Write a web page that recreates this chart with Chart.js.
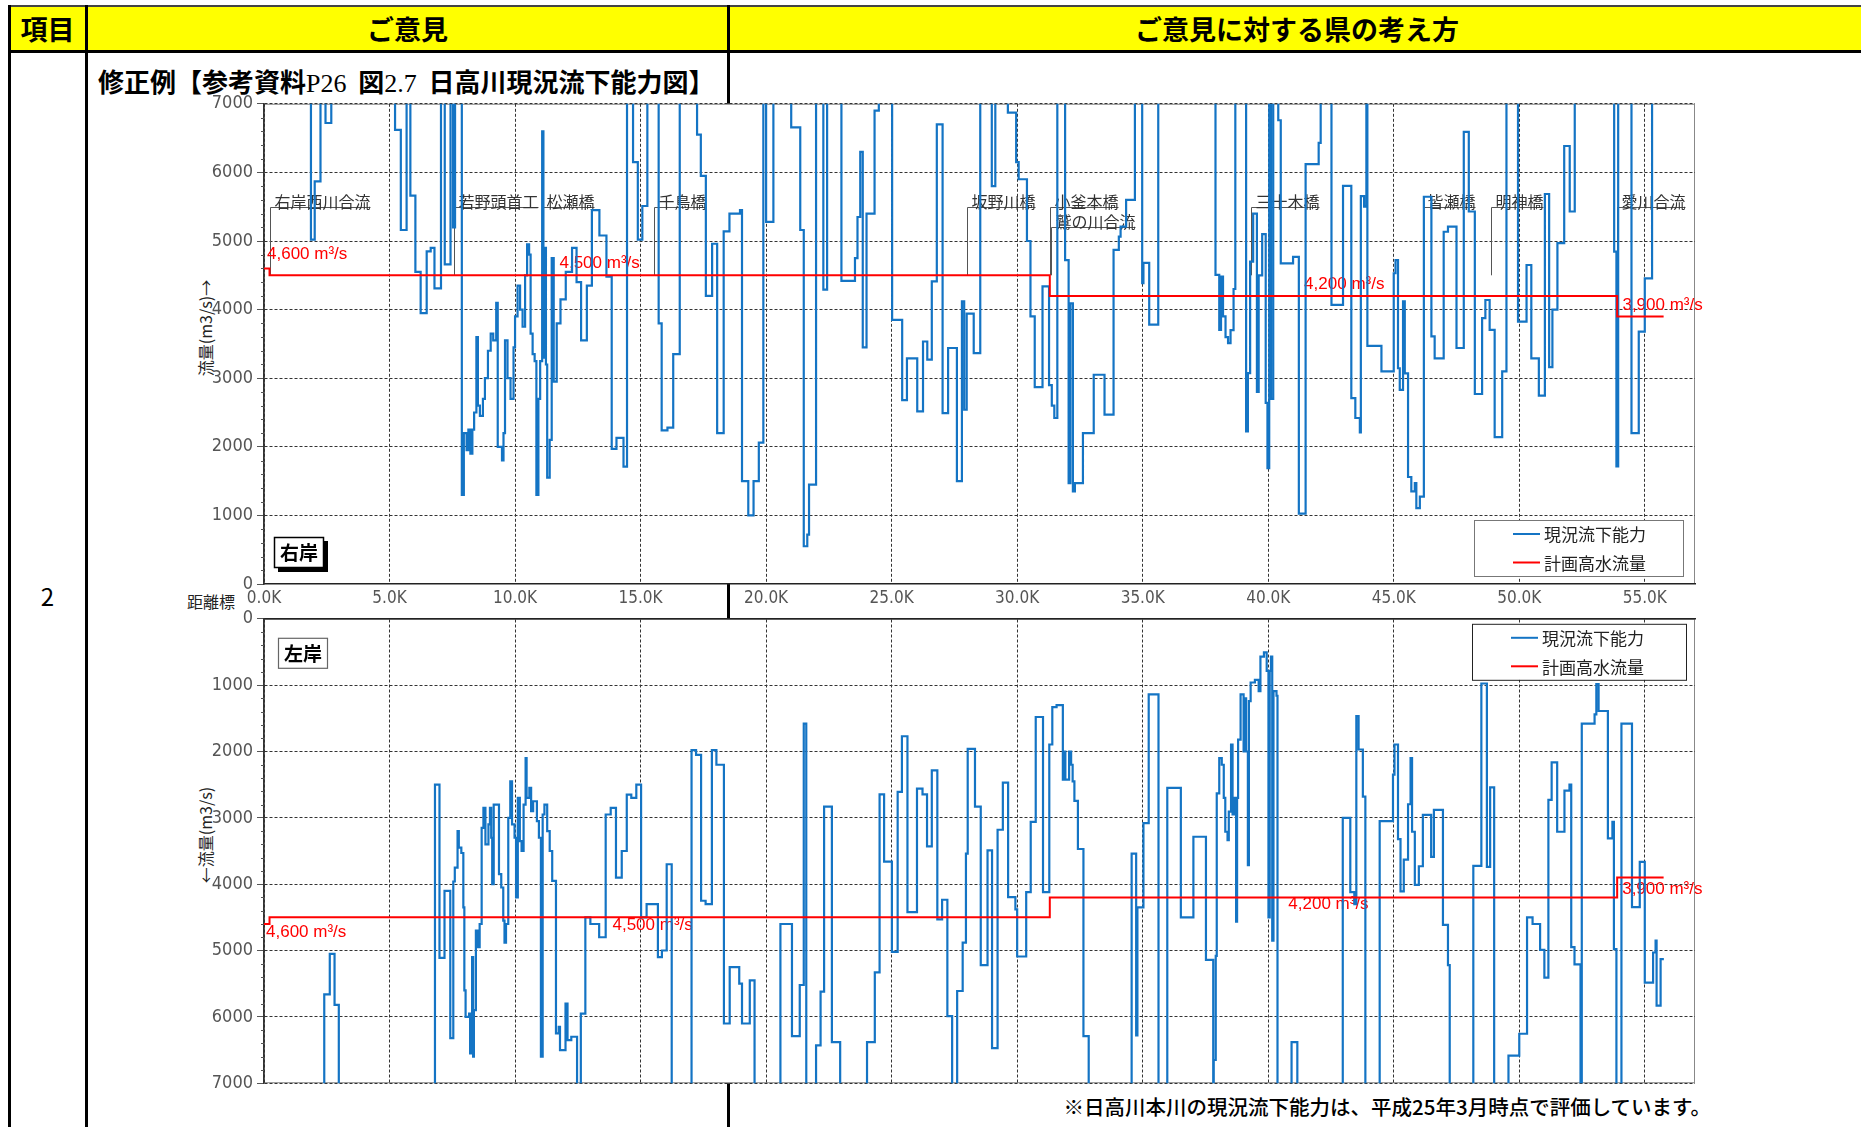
<!DOCTYPE html>
<html lang="ja">

<head>
    <meta charset="UTF-8">
    <title>日高川現況流下能力図</title>
    <script src="https://cdn.jsdelivr.net/npm/chart.js"></script>
    <style>
        body { margin: 0; width: 1861px; height: 1127px; position: relative; overflow: hidden; background: #fff;
               font-family: "Noto Sans CJK JP", sans-serif; color: #000; }
        .abs { position: absolute; }
        .ln { position: absolute; background: #000; }
        .hd { position: absolute; top: 7px; height: 44px; line-height: 44px; text-align: center; font-weight: bold; font-size: 27px; }
        .serif { font-family: "Liberation Serif", serif; font-weight: normal; }
        .vt { position: absolute; font-size: 16px; color: #222; white-space: nowrap; transform: translate(-50%, -50%) rotate(-90deg); }
        canvas { position: absolute; z-index: 2; }
    </style>
</head>

<body>
    <!-- table frame -->
    <div class="abs" style="left:9px;top:7px;width:1852px;height:44px;background:#ff0"></div>
    <div class="ln" style="left:8px;top:5px;width:1853px;height:2px;background:#444"></div>
    <div class="ln" style="left:8px;top:50px;width:1853px;height:3px"></div>
    <div class="ln" style="left:8px;top:5px;width:3px;height:1122px"></div>
    <div class="ln" style="left:85px;top:5px;width:3px;height:1122px"></div>
    <div class="ln" style="left:727px;top:5px;width:3px;height:1122px"></div>
    <div class="hd" style="left:9px;width:77px">項目</div>
    <div class="hd" style="left:88px;width:639px">ご意見</div>
    <div class="hd" style="left:730px;width:1134px">ご意見に対する県の考え方</div>
    <div class="abs" style="left:9px;width:77px;top:580px;line-height:32px;text-align:center;font-size:24px">2</div>
    <div class="abs" style="left:98px;top:64px;line-height:34px;font-size:26px;font-weight:bold;white-space:nowrap">修正例【参考資料<span class="serif">P26</span>&nbsp;&nbsp;図<span class="serif">2.7</span>&nbsp;&nbsp;日高川現況流下能力図】</div>
    <div class="abs" style="right:150px;top:1092px;line-height:28px;font-size:20.5px;font-weight:500;white-space:nowrap">※日高川本川の現況流下能力は、平成25年3月時点で評価しています。</div>
    <div class="vt" style="left:205px;top:328px">流量(m3/s)→</div>
    <div class="vt" style="left:205px;top:835px">←流量(m3/s)</div>
    <div class="abs" style="left:187px;top:588px;line-height:26px;font-size:16px;color:#222">距離標</div>

    <canvas id="rightBank" width="1553" height="518" style="left:154px;top:95px"></canvas>
    <canvas id="leftBank" width="1553" height="482" style="left:154px;top:608px"></canvas>

    <script>
        // 右岸 現況流下能力 (距離標 km, 流量 m3/s), 8000 = above the 7000 frame
        const rightKm = [0, 1.87, 2.02, 2.25, 2.45, 2.68, 5.22, 5.45, 5.68, 5.83, 6.03, 6.24, 6.48, 6.64, 6.79, 7.05, 7.2, 7.43, 7.53, 7.61,
            7.88, 7.96, 8.07, 8.14, 8.22, 8.3, 8.37, 8.46, 8.52, 8.6, 8.72, 8.8, 8.92, 9.03, 9.13, 9.25, 9.31, 9.48, 9.54, 9.6,
            9.7, 9.82, 9.94, 10.0, 10.1, 10.2, 10.3, 10.4, 10.48, 10.56, 10.62, 10.7, 10.78, 10.85, 10.93, 11.0, 11.08, 11.13, 11.17, 11.23,
            11.28, 11.38, 11.46, 11.54, 11.66, 11.81, 12.02, 12.27, 12.45, 12.63, 12.86, 13.06, 13.36, 13.64, 13.85, 14.04, 14.32, 14.46, 14.7, 14.89,
            15.07, 15.27, 15.72, 15.84, 16.07, 16.3, 16.56, 17.25, 17.4, 17.6, 17.85, 18.05, 18.31, 18.54, 18.96, 19.04, 19.29, 19.5, 19.71, 19.89,
            20.0, 20.29, 21.0, 21.36, 21.5, 21.64, 21.71, 21.99, 22.28, 22.43, 23.0, 23.54, 23.64, 23.75, 23.85, 24.0, 24.32, 24.49, 25.02, 25.42,
            25.61, 26.02, 26.25, 26.42, 26.6, 26.8, 27.03, 27.25, 27.6, 27.8, 27.89, 27.99, 28.27, 28.53, 28.99, 29.13, 29.63, 29.96, 30.06, 30.39,
            30.53, 30.7, 31.01, 31.27, 31.38, 31.48, 31.6, 31.91, 32.05, 32.12, 32.22, 32.3, 32.62, 33.05, 33.48, 33.84, 34.05, 34.12, 34.34, 34.69,
            34.98, 35.03, 35.26, 35.62, 37.9, 38.05, 38.12, 38.2, 38.3, 38.4, 38.5, 38.62, 38.69, 39.12, 39.19, 39.28, 39.4, 39.55, 39.62, 39.76,
            39.9, 39.97, 40.04, 40.11, 40.2, 40.4, 40.5, 40.99, 41.22, 41.49, 42.01, 42.09, 42.52, 42.98, 43.31, 43.47, 43.65, 43.69, 43.82, 43.91,
            43.95, 44.51, 45.0, 45.07, 45.17, 45.24, 45.37, 45.44, 45.57, 45.7, 45.84, 45.9, 46.04, 46.2, 46.5, 46.63, 46.99, 47.16, 47.5, 47.79,
            47.99, 48.23, 48.52, 48.65, 48.82, 49.02, 49.32, 49.49, 49.95, 50.29, 50.48, 50.78, 51.02, 51.19, 51.32, 51.52, 51.79, 52.01, 52.21, 53.78,
            53.87, 53.94, 54.47, 54.76, 55.0, 55.29, 55.75];
        const rightQ = [8000, 5020, 5870, 8000, 6720, 8000, 6620, 5160, 8000, 5660, 4550, 3950, 4850, 4900, 4310, 8000, 4660, 8000, 5200, 8000,
            1300, 2200, 1950, 2250, 1900, 2250, 2500, 3600, 2600, 2450, 2700, 3000, 3400, 3650, 3550, 4100, 2000, 1800, 2200, 3550,
            3000, 2700, 3450, 3900, 4350, 4000, 3750, 4500, 4950, 4800, 3650, 3350, 3250, 1300, 2700, 3250, 6600, 3300, 4900, 3200,
            1550, 2100, 4750, 2950, 3800, 4150, 4550, 4900, 4400, 3550, 4350, 5450, 5080, 4480, 1970, 2130, 1710, 8000, 6150, 5020,
            5510, 8000, 3800, 2240, 2280, 3350, 8000, 6550, 5950, 4200, 4960, 2200, 5140, 5400, 5450, 1500, 1000, 1500, 2060, 8000,
            5280, 8000, 6655, 5160, 550, 720, 1450, 8000, 4290, 8000, 4420, 4750, 5350, 6300, 3450, 5400, 6900, 8000, 3850, 2680,
            3290, 2515, 3535, 3270, 4410, 6700, 2490, 3440, 1500, 4120, 2540, 3940, 3365, 8000, 5800, 8000, 6870, 6150, 5900, 5000,
            3900, 2870, 4340, 2900, 2600, 2420, 8000, 4720, 1470, 4090, 1350, 1470, 2200, 3050, 2470, 4870, 5065, 5210, 5600, 8000,
            4385, 4680, 3780, 8000, 4505, 3705, 4480, 3900, 3600, 3510, 3700, 4300, 8000, 2225, 3075, 4700, 5400, 2800, 4500, 5100,
            2640, 1690, 8000, 2700, 8000, 6760, 4675, 4770, 1025, 6120, 6430, 8000, 4070, 5805, 2710, 2420, 2210, 5655, 5500, 8000,
            3470, 3100, 4530, 4720, 3145, 2830, 4120, 3070, 1560, 1350, 1470, 1105, 1275, 5645, 3610, 3290, 5135, 5210, 3440, 6590,
            5430, 2770, 3875, 4140, 3705, 2140, 3100, 8000, 3825, 4650, 3290, 2745, 5685, 3160, 4000, 4970, 6385, 5430, 8000, 4845,
            1715, 8000, 2200, 3680, 4455, 8000, 8000];

        // 左岸 現況流下能力, 8000 = below the 7000 frame
        const leftKm = [0, 2.4, 2.62, 2.81, 2.98, 6.81, 6.99, 7.19, 7.42, 7.54, 7.6, 7.71, 7.76, 7.86, 7.94, 7.98, 8.03, 8.17, 8.21, 8.29,
            8.33, 8.36, 8.44, 8.52, 8.59, 8.67, 8.74, 8.82, 8.94, 9.0, 9.05, 9.09, 9.15, 9.36, 9.45, 9.53, 9.58, 9.64, 9.73, 9.81,
            9.88, 9.98, 10.04, 10.11, 10.19, 10.26, 10.34, 10.42, 10.46, 10.57, 10.64, 10.72, 10.87, 10.95, 11.03, 11.1, 11.17, 11.28, 11.38, 11.48,
            11.63, 11.74, 11.79, 12.01, 12.09, 12.24, 12.47, 12.62, 12.8, 13.0, 13.35, 13.61, 13.81, 14.02, 14.25, 14.45, 14.63, 14.83, 15.02, 15.24,
            15.69, 15.85, 16.04, 16.24, 17.03, 17.21, 17.41, 17.59, 17.84, 18.02, 18.32, 18.55, 18.93, 19.04, 19.35, 19.54, 20.57, 21.03, 21.34, 21.5,
            21.6, 21.99, 22.17, 22.31, 22.62, 22.95, 24.02, 24.33, 24.52, 24.7, 25.01, 25.24, 25.41, 25.63, 26.01, 26.23, 26.41, 26.6, 26.82, 27.01,
            27.22, 27.41, 27.61, 27.83, 27.96, 28.03, 28.32, 28.55, 28.82, 29.0, 29.22, 29.43, 29.64, 29.93, 30.0, 30.36, 30.54, 30.74, 31.03, 31.28,
            31.4, 31.57, 31.82, 31.88, 31.92, 32.07, 32.15, 32.21, 32.28, 32.42, 32.64, 32.85, 34.56, 34.74, 34.79, 35.03, 35.24, 35.63, 35.98, 36.52,
            37.02, 37.52, 37.81, 37.83, 37.91, 37.95, 38.05, 38.15, 38.23, 38.29, 38.38, 38.43, 38.52, 38.58, 38.66, 38.72, 38.76, 38.8, 38.9, 39.02,
            39.09, 39.12, 39.19, 39.23, 39.3, 39.47, 39.62, 39.69, 39.83, 39.94, 40.01, 40.06, 40.11, 40.16, 40.21, 40.33, 40.37, 40.93, 41.16, 42.97,
            43.27, 43.43, 43.51, 43.6, 43.77, 43.87, 44.44, 44.97, 45.03, 45.17, 45.27, 45.4, 45.57, 45.67, 45.73, 45.84, 46.0, 46.16, 46.49, 46.6,
            46.96, 47.16, 47.23, 48.17, 48.49, 48.71, 48.84, 49.0, 49.57, 50.0, 50.31, 50.53, 50.83, 51.0, 51.16, 51.29, 51.51, 51.8, 52.0, 52.07,
            52.2, 52.44, 52.49, 53.0, 53.07, 53.16, 53.53, 53.71, 53.77, 53.87, 54.07, 54.49, 54.8, 55.0, 55.33, 55.43, 55.47, 55.63, 55.76];
        const leftQ = [8000, 5660, 5050, 5820, 8000, 2500, 5110, 4100, 6320, 3960, 3750, 3200, 3450, 3530, 4350, 5600, 6000, 5950, 6550, 5100,
            6600, 5900, 4700, 4950, 4600, 3150, 2850, 3400, 3100, 2850, 3300, 4000, 2800, 3850, 4050, 4550, 4880, 4600, 3000, 2450,
            3100, 3300, 4200, 2700, 3350, 3500, 2800, 2100, 2700, 2550, 2900, 2750, 3050, 3300, 6600, 2950, 2800, 3200, 3500, 3950,
            6250, 6150, 6500, 5800, 6350, 6300, 8000, 5950, 4500, 4600, 4800, 2950, 2850, 3900, 3500, 2650, 2700, 2500, 4500, 4300,
            5100, 5000, 3700, 8000, 1980, 2050, 4250, 4300, 1980, 2200, 6100, 5250, 5500, 6100, 5450, 8000, 4600, 6290, 5520, 1580,
            8000, 6430, 5620, 2830, 6380, 8000, 6380, 5330, 2645, 3660, 5020, 2610, 1770, 4420, 2560, 2645, 3430, 2285, 4530, 4235,
            5990, 8000, 5610, 4880, 3540, 1960, 2830, 5220, 3490, 6470, 3180, 2470, 4195, 4380, 5090, 4120, 3060, 1480, 4120, 1895,
            1330, 1300, 2425, 2000, 2425, 2000, 2200, 2450, 2745, 3470, 6290, 8000, 3540, 6280, 4350, 3080, 1140, 8000, 2550, 4500,
            3285, 5140, 8000, 6650, 5080, 2630, 2100, 2200, 2700, 3210, 3335, 2905, 1895, 2950, 2700, 4565, 2700, 1820, 1140, 2000,
            1200, 2000, 3715, 1240, 960, 920, 1090, 570, 505, 785, 4500, 785, 570, 4850, 1090, 1160, 8000, 6380, 8000, 3000,
            4120, 4300, 1465, 1970, 2680, 8000, 3050, 2350, 1895, 3320, 4110, 3630, 2795, 2100, 3210, 4010, 3730, 2955, 3590, 2880,
            4615, 5220, 8000, 3725, 975, 3740, 2540, 8000, 6585, 6255, 4500, 4600, 4990, 5410, 2730, 2165, 3210, 2590, 2500, 4950,
            5210, 8000, 1580, 1440, 985, 1390, 3310, 3060, 4980, 8000, 1580, 4345, 3665, 5485, 5030, 4850, 5830, 5130, 5130];

        // 計画高水流量
        const planKm = [0, 0.22, 31.3, 53.9, 55.75];
        const planQ = [4600, 4500, 4200, 3900, 3900];
        const planText = ['4,600 m³/s', '4,500 m³/s', '4,200 m³/s', '3,900 m³/s'];

        // 右岸の橋・合流点
        const bridgeNames = ['右岸西川合流', '若野頭首工', '松瀬橋', '千鳥橋', '坂野川橋', '小釜本橋', '鷲の川合流', '三十木橋', '皆瀬橋', '明神橋', '愛川合流'];
        const bridgeKm = [0.24, 7.58, 11.08, 15.54, 27.99, 31.31, 31.35, 39.33, 46.17, 48.86, 53.91];

        const BLUE = '#1474c4';
        const narrow = "'Liberation Sans Narrow', 'DejaVu Sans Condensed', sans-serif";
        const jp = "'Noto Sans CJK JP', sans-serif";

        const pts = (km, q) => km.map((k, i) => ({ x: k, y: q[i] }));

        const sheetPlugin = {
            id: 'sheet',
            beforeDraw(chart) {
                const { ctx, chartArea: a } = chart;
                ctx.save();
                ctx.fillStyle = '#fff';
                ctx.fillRect(a.left, a.top, a.width, a.height);
                ctx.strokeStyle = '#888';
                ctx.lineWidth = 1;
                ctx.strokeRect(a.left + 0.5, a.top + 0.5, a.width - 1, a.height - 1);
                ctx.restore();
            },
            beforeDatasetsDraw(chart, args, o) {
                const { ctx, chartArea: a } = chart;
                const xs = chart.scales.x, ys = chart.scales.y;
                ctx.save();
                // minor ticks every 200
                ctx.strokeStyle = '#555';
                ctx.lineWidth = 1;
                ctx.beginPath();
                for (let v = 200; v < 7000; v += 200) {
                    if (v % 1000 === 0) continue;
                    const p = Math.round(ys.getPixelForValue(v)) + 0.5;
                    ctx.moveTo(a.left - 3, p);
                    ctx.lineTo(a.left, p);
                }
                ctx.stroke();

                // bridge / confluence markers (right bank only)
                if (o.side === 'right') {
                    ctx.font = '16px ' + jp;
                    ctx.textBaseline = 'bottom';
                    let prevX = -100;
                    const base = ys.getPixelForValue(4500);
                    bridgeNames.forEach((name, i) => {
                        const x = Math.round(xs.getPixelForValue(bridgeKm[i])) + 0.5;
                        const lower = x - prevX < 20;
                        const lv = Math.round(ys.getPixelForValue(lower ? 5200 : 5500)) + 0.5;
                        const w = ctx.measureText(name).width;
                        ctx.strokeStyle = '#555';
                        ctx.beginPath();
                        ctx.moveTo(x, base);
                        ctx.lineTo(x, lv);
                        ctx.lineTo(x + w + 4, lv);
                        ctx.stroke();
                        ctx.fillStyle = '#333';
                        ctx.fillText(name, x + 4, lv + 2);
                        prevX = x;
                    });
                }

                // plan discharge labels
                ctx.font = '17px ' + "'Liberation Sans', sans-serif";
                ctx.fillStyle = '#f00';
                ctx.textBaseline = 'middle';
                planText.forEach((t, i) => {
                    ctx.fillText(t, xs.getPixelForValue(o.labelKm[i]), ys.getPixelForValue(o.labelQ[i]));
                });
                ctx.restore();
            },
            afterDatasetsDraw(chart, args, o) {
                const { ctx, chartArea: a } = chart;
                ctx.save();
                // legend
                const w = o.side === 'right' ? 209 : 214;
                const bx = a.right - (o.side === 'right' ? 221 : 223);
                const by = o.side === 'right' ? a.bottom - 64 : a.top + 5;
                ctx.fillStyle = '#fff';
                ctx.fillRect(bx, by, w, 56);
                ctx.strokeStyle = o.side === 'right' ? '#777' : '#222';
                ctx.lineWidth = 1;
                ctx.strokeRect(bx + 0.5, by + 0.5, w, 56);
                ctx.font = '17px ' + jp;
                ctx.textBaseline = 'middle';
                chart.data.datasets.forEach((ds, i) => {
                    const cy = by + 14 + i * 28.5;
                    ctx.strokeStyle = ds.borderColor;
                    ctx.lineWidth = 2;
                    ctx.beginPath();
                    ctx.moveTo(bx + 39, cy);
                    ctx.lineTo(bx + 66, cy);
                    ctx.stroke();
                    ctx.fillStyle = '#222';
                    ctx.fillText(ds.label, bx + 70, cy + 1);
                });

                // bank tag
                const tx = a.left + (o.side === 'right' ? 10 : 14);
                const ty = o.side === 'right' ? a.bottom - 47 : a.top + 19;
                if (o.side === 'right') {
                    ctx.fillStyle = '#000';
                    ctx.fillRect(tx + 4, ty + 4, 50, 31);
                }
                ctx.fillStyle = '#fff';
                ctx.fillRect(tx, ty, 50, 31);
                ctx.strokeStyle = o.side === 'right' ? '#000' : '#666';
                ctx.lineWidth = o.side === 'right' ? 1.5 : 1.2;
                ctx.strokeRect(tx + 0.5, ty + 0.5, 49, 30);
                ctx.fillStyle = '#000';
                ctx.font = 'bold 19px ' + jp;
                ctx.textAlign = 'center';
                ctx.fillText(o.side === 'right' ? '右岸' : '左岸', tx + 25, ty + 16);
                ctx.restore();
            }
        };

        function makeChart(id, side, km, q) {
            const isRight = side === 'right';
            return new Chart(document.getElementById(id), {
                type: 'line',
                data: {
                    datasets: [
                        {
                            label: '現況流下能力',
                            data: pts(km, q),
                            borderColor: BLUE,
                            borderWidth: 2.2,
                            stepped: 'before',
                            pointRadius: 0,
                            order: 2
                        },
                        {
                            label: '計画高水流量',
                            data: pts(planKm, planQ),
                            borderColor: '#ff0000',
                            borderWidth: 2,
                            stepped: 'before',
                            pointRadius: 0,
                            order: 1
                        }
                    ]
                },
                options: {
                    responsive: false,
                    maintainAspectRatio: false,
                    animation: false,
                    events: [],
                    layout: { padding: { top: 12, right: 14, bottom: isRight ? 0 : 12, left: 0 } },
                    plugins: {
                        legend: { display: false },
                        tooltip: { enabled: false },
                        sheet: isRight
                            ? { side: 'right', labelKm: [0.12, 11.77, 41.43, 54.11], labelQ: [4800, 4680, 4370, 4060] }
                            : { side: 'left', labelKm: [0.08, 13.88, 40.8, 54.1], labelQ: [4730, 4620, 4300, 4080] }
                    },
                    scales: {
                        x: {
                            type: 'linear',
                            position: isRight ? 'bottom' : 'top',
                            min: 0,
                            max: 57,
                            afterFit: s => { s.height = isRight ? 28 : 0; },
                            ticks: {
                                display: isRight,
                                stepSize: 5,
                                includeBounds: false,
                                autoSkip: false,
                                maxRotation: 0,
                                padding: 4,
                                color: '#555',
                                font: { family: narrow, size: 17 },
                                callback: v => v.toFixed(1) + 'K'
                            },
                            grid: { color: '#333', lineWidth: 1, drawTicks: false },
                            border: { color: '#222', width: 1.5, dash: [3, 2] }
                        },
                        y: {
                            min: 0,
                            max: 7000,
                            reverse: !isRight,
                            afterFit: s => { s.width = 110; },
                            ticks: {
                                stepSize: 1000,
                                padding: 4,
                                color: '#555',
                                font: { family: narrow, size: 18 },
                                callback: v => String(v)
                            },
                            grid: {
                                color: c => (c.tick && c.tick.value !== 0) ? '#333' : 'rgba(0,0,0,0)',
                                tickColor: '#555',
                                tickLength: 7,
                                lineWidth: 1
                            },
                            border: { color: '#333', width: 1.5, dash: [3, 2] }
                        }
                    }
                },
                plugins: [sheetPlugin]
            });
        }

        // move/resize the canvas so that the plot area lands on the given page rectangle
        function placeChart(chart, left, top, right, bottom) {
            for (let pass = 0; pass < 2; pass++) {
                const a = chart.chartArea;
                const w = Math.round(chart.width + (right - left) - (a.right - a.left));
                const h = Math.round(chart.height + (bottom - top) - (a.bottom - a.top));
                if (w !== chart.width || h !== chart.height) chart.resize(w, h);
            }
            const b = chart.chartArea;
            chart.canvas.style.left = (left - b.left) + 'px';
            chart.canvas.style.top = (top - b.top) + 'px';
        }

        const rightChart = makeChart('rightBank', 'right', rightKm, rightQ);
        const leftChart = makeChart('leftBank', 'left', leftKm, leftQ);
        placeChart(rightChart, 264, 104, 1695, 584);
        placeChart(leftChart, 264, 618.5, 1695, 1083);
    </script>
</body>

</html>
